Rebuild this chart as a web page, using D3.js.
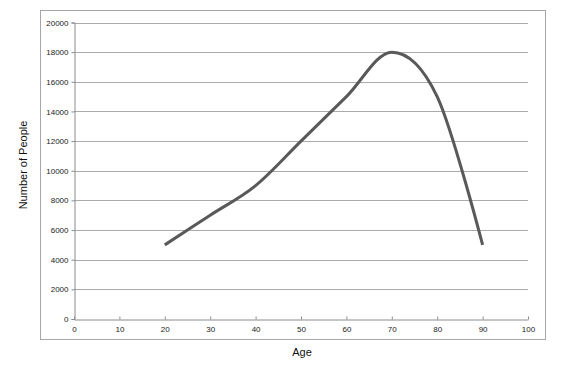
<!DOCTYPE html>
<html><head><meta charset="utf-8">
<script src="https://cdn.jsdelivr.net/npm/d3@7"></script>
<style>html,body{margin:0;padding:0;background:#fff;}svg{display:block;}</style>
</head><body>
<script>
const ages = [20, 30, 40, 50, 60, 70, 80, 90];
const people = [5000, 7000, 9000, 12000, 15000, 18000, 15000, 5000];
const xTicks = [0, 10, 20, 30, 40, 50, 60, 70, 80, 90, 100];
const yTicks = [0, 2000, 4000, 6000, 8000, 10000, 12000, 14000, 16000, 18000, 20000];
const xTitle = "Age";
const yTitle = "Number of People";

const W = 562, H = 366;
const svg = d3.select("body").append("svg").attr("width", W).attr("height", H);

// outer chart border
svg.append("rect").attr("x", 40.5).attr("y", 10.5).attr("width", 505).attr("height", 329)
  .attr("fill", "#fff").attr("stroke", "#a6a6a6").attr("stroke-width", 1);

const x = d3.scaleLinear().domain([0, 100]).range([74, 528]);
const y = d3.scaleLinear().domain([0, 20000]).range([319, 22.5]);

// gridlines
svg.append("g").selectAll("line").data(yTicks.filter(d => d > 0)).join("line")
  .attr("x1", x(0)).attr("x2", x(100))
  .attr("y1", d => Math.round(y(d)) + 0.5).attr("y2", d => Math.round(y(d)) + 0.5)
  .attr("stroke", "#ababab").attr("stroke-width", 1);

// y axis
const yAxis = svg.append("g").attr("transform", `translate(${x(0)+0.5},0)`)
  .call(d3.axisLeft(y).tickValues(yTicks).tickSize(3).tickPadding(3).tickFormat(d3.format("d")));
yAxis.select(".domain").attr("stroke", "#8c8c8c");
yAxis.selectAll(".tick line").attr("stroke", "#8c8c8c");
yAxis.selectAll("text").attr("font-family", "Liberation Sans, Arial, sans-serif").attr("font-size", 8).attr("fill", "#222");

// x axis
const xAxis = svg.append("g").attr("transform", `translate(0,${Math.round(y(0))+0.5})`)
  .call(d3.axisBottom(x).tickValues(xTicks).tickSizeInner(-3).tickSizeOuter(0).tickPadding(7).tickFormat(d3.format("d")));
xAxis.select(".domain").attr("stroke", "#8c8c8c");
xAxis.selectAll(".tick line").attr("stroke", "#8c8c8c");
xAxis.selectAll("text").attr("font-family", "Liberation Sans, Arial, sans-serif").attr("font-size", 8).attr("fill", "#222");

// line
const data = ages.map((a, i) => ({a, v: people[i]}));
svg.append("path").datum(data)
  .attr("d", d3.line().x(d => x(d.a)).y(d => y(d.v)).curve(d3.curveCardinal.tension(0)))
  .attr("fill", "none").attr("stroke", "#595959").attr("stroke-width", 3)
  .attr("stroke-linejoin", "round").attr("stroke-linecap", "butt");

// titles
svg.append("text").attr("x", 302).attr("y", 356).attr("text-anchor", "middle")
  .attr("font-family", "Liberation Sans, Arial, sans-serif").attr("font-size", 11).attr("fill", "#111").text(xTitle);
svg.append("text").attr("transform", "translate(26.5,165) rotate(-90)").attr("text-anchor", "middle")
  .attr("font-family", "Liberation Sans, Arial, sans-serif").attr("font-size", 11).attr("fill", "#111").text(yTitle);
</script>
</body></html>
